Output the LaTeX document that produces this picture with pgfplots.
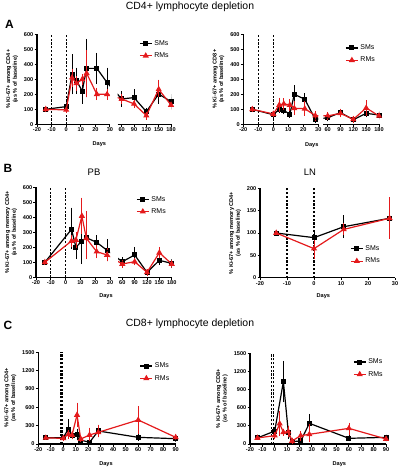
\documentclass[border=0pt]{standalone}
\usepackage{pgfplots}
\pgfplotsset{compat=1.18}
\usepackage{pgfplotstable}
\usepackage{fontspec}
\setmainfont{Liberation Sans}
\definecolor{myred}{RGB}{228,26,28}

% ---------- data: d = day, v = value, p/m = error up/down ----------
\pgfplotstableread{
d v p m
-14 100 0 0
0 118 10 10
4 333 118 118
7 291 71 71
11 222 62 70
14 373 180 177
21 373 87 89
28 278 84 85
60 169 35 35
90 178 40 38
120 84 10 10
150 202 49 49
180 151 33 31
}\ALsm
\pgfplotstableread{
d v p m
-14 100 0 0
0 96 5 5
4 311 45 45
7 273 34 37
11 300 18 22
14 340 138 144
21 200 29 22
28 200 22 20
60 169 20 20
90 136 10 10
120 58 10 10
150 233 49 37
180 129 15 15
}\ALrm
\pgfplotstableread{
d v p m
-14 100 0 0
0 64 5 5
4 100 10 10
7 93 10 10
11 67 8 8
14 200 44 35
21 167 24 23
28 33 18 10
60 44 8 8
90 78 10 10
120 31 5 5
150 73 10 10
180 62 10 10
}\ARsm
\pgfplotstableread{
d v p m
-14 100 0 0
0 69 5 5
4 129 33 33
7 136 22 23
11 129 22 22
14 107 33 29
21 104 36 31
28 58 15 18
60 56 8 8
90 73 10 10
120 33 5 5
150 109 35 36
180 56 8 8
}\ARrm
\pgfplotstableread{
d v p m
-14 100 0 0
4 320 129 116
7 200 64 62
11 242 140 138
14 264 129 126
21 233 31 33
28 180 58 58
60 104 15 15
90 149 38 36
120 33 5 5
150 113 15 15
180 93 15 15
}\BLsm
\pgfplotstableread{
d v p m
-14 100 0 0
4 242 22 26
7 249 38 38
11 409 107 105
14 260 167 122
21 171 29 29
28 149 33 27
60 89 10 10
90 104 8 8
120 33 5 5
150 164 23 22
180 89 10 10
}\BLrm
\pgfplotstableread{
d v p m
-14 100 0 0
0 89.6 10 12
11 114 20 20
28 133 22 21
}\LNsm
\pgfplotstableread{
d v p m
-14 100 0 0
0 65 13 18
11 108 8 7
28 133 42 41
}\LNrm
\pgfplotstableread{
d v p m
-14 100 0 0
0 105 10 10
4 245 120 100
7 136 20 20
11 158 55 55
14 65 10 10
21 27 10 10
28 213 65 65
60 109 15 15
90 87 10 10
}\CLsm
\pgfplotstableread{
d v p m
-14 100 0 0
0 93 10 10
4 158 30 30
7 147 20 20
11 475 163 164
14 82 10 10
21 147 82 60
28 191 76 44
60 393 191 191
90 109 10 10
}\CLrm
\pgfplotstableread{
d v p m
-14 100 0 0
0 215 20 20
7 1031 304 304
11 193 66 66
14 39 10 10
21 50 10 10
28 342 116 116
60 94 10 10
90 110 10 10
}\CRsm
\pgfplotstableread{
d v p m
-14 100 0 0
0 138 20 20
4 336 171 160
7 193 20 20
11 204 55 55
14 50 10 10
21 138 38 44
28 160 127 94
60 259 55 66
90 83 10 10
}\CRrm

\newcommand{\tf}{\bfseries\fontsize{5.6}{6.6}\selectfont}

\pgfplotsset{
  gp/.style={
    scale only axis, anchor=south west,
    axis x line=bottom, axis y line=left,
    axis line style={-, line width=1.1bp, black},
    tick align=outside,
    major tick length=2.5bp,
    every tick/.style={black, line width=1bp},
    ticklabel style={font=\tf, inner sep=1bp},
    /pgf/number format/assume math mode=true,
    /pgf/number format/1000 sep={},
    clip mode=individual,
    ylabel style={font=\tf, align=center},
    ylabel shift=1.5bp,
    legend style={draw=none, fill=none, font=\fontsize{7}{8}\selectfont,
      anchor=west, row sep=2bp, inner sep=0pt},
    legend cell align=left,
    legend image code/.code={\draw[mark repeat=2,mark phase=2,##1]
      plot coordinates {(0bp,0bp) (6bp,0bp) (12bp,0bp)};},
  },
  gp2/.style={gp, axis y line=none},
  sm/.style={black, line width=1.2bp, mark=square*, mark size=1.9bp,
    mark options={solid},
    error bars/y dir=both, error bars/y explicit,
    error bars/error bar style={line width=0.8bp},
    error bars/error mark options={line width=0.8bp, mark size=2.4bp}},
  rm/.style={myred, line width=1.2bp, mark=triangle*, mark size=2.4bp,
    mark options={solid},
    error bars/y dir=both, error bars/y explicit,
    error bars/error bar style={line width=0.8bp},
    error bars/error mark options={line width=0.8bp, mark size=2.4bp}},
  cnk/.style={black, line width=1.2bp, no marks, forget plot},
  cnr/.style={myred, line width=1.2bp, no marks, forget plot},
  dl/.style={black, line width=1.1bp, dash pattern=on 2.2bp off 1.6bp, no marks, forget plot},
}

\begin{document}
\begin{tikzpicture}
\path[use as bounding box] (0bp,0bp) rectangle (400bp,-471bp);

% ---------------- titles ----------------
\node[font=\fontsize{10.5}{12}\selectfont] at (190bp,-7bp) {CD4+ lymphocyte depletion};
\node[font=\bfseries\fontsize{12}{14}\selectfont] at (9.5bp,-24bp) {A};
\node[font=\bfseries\fontsize{12}{14}\selectfont] at (8bp,-168bp) {B};
\node[font=\fontsize{9.5}{11}\selectfont] at (94bp,-172bp) {PB};
\node[font=\fontsize{9.5}{11}\selectfont] at (310bp,-172bp) {LN};
\node[font=\bfseries\fontsize{12}{14}\selectfont] at (8bp,-325bp) {C};
\node[font=\fontsize{10.5}{12}\selectfont] at (190bp,-324bp) {CD8+ lymphocyte depletion};
\node[font=\tf] at (99.3bp,-144.5bp) {Days};
\node[font=\tf] at (311.7bp,-145bp) {Days};
\node[font=\tf] at (106bp,-295.7bp) {Days};
\node[font=\tf] at (323.3bp,-295.7bp) {Days};
\node[font=\tf] at (106bp,-464bp) {Days};
\node[font=\tf] at (339.3bp,-464bp) {Days};

% ================= A left =================
\begin{axis}[gp, at={(37bp,-124.3bp)}, width=73bp, height=90bp,
  xmin=-20, xmax=30, ymin=0, ymax=600,
  xtick={-20,-10,0,10,20,30}, ytick={0,100,...,600},
  ylabel={\% Ki-67+ among CD4+\\(as \% of baseline)}]
\addplot[dl] coordinates {(-10,0) (-10,600)};
\addplot[dl] coordinates {(0,0) (0,600)};
\addplot[sm, restrict x to domain=-20:30] table[x=d,y=v,y error plus=p,y error minus=m]{\ALsm};
\addplot[rm, restrict x to domain=-20:30] table[x=d,y=v,y error plus=p,y error minus=m]{\ALrm};
\addplot[cnk] coordinates {(28,278) (38.0,169)};
\addplot[cnr] coordinates {(28,200) (38.0,169)};
\end{axis}
\begin{axis}[gp2, at={(117.6bp,-124.3bp)}, width=53.4bp, height=90bp,
  xmin=50, xmax=180, ymin=0, ymax=600, xtick={60,90,120,150,180},
  legend style={at={(0.40,0.83)}}]
\addplot[sm, restrict x to domain=50:180] table[x=d,y=v,y error plus=p,y error minus=m]{\ALsm};
\addplot[rm, restrict x to domain=50:180] table[x=d,y=v,y error plus=p,y error minus=m]{\ALrm};
\addplot[cnk] coordinates {(24.4,278) (60,169)};
\addplot[cnr] coordinates {(24.4,200) (60,169)};
\legend{SMs,RMs}
\end{axis}

% ================= A right =================
\begin{axis}[gp, at={(243.3bp,-124.3bp)}, width=75bp, height=90bp,
  xmin=-20, xmax=30, ymin=0, ymax=600,
  xtick={-20,-10,0,10,20,30}, ytick={0,100,...,600},
  ylabel={\% Ki-67+ among CD8+\\(as \% of baseline)}]
\addplot[dl] coordinates {(-10,0) (-10,600)};
\addplot[dl] coordinates {(0,0) (0,600)};
\addplot[sm, restrict x to domain=-20:30] table[x=d,y=v,y error plus=p,y error minus=m]{\ARsm};
\addplot[rm, restrict x to domain=-20:30] table[x=d,y=v,y error plus=p,y error minus=m]{\ARrm};
\addplot[cnk] coordinates {(28,33) (36.3,44)};
\addplot[cnr] coordinates {(28,58) (36.3,56)};
\end{axis}
\begin{axis}[gp2, at={(323.4bp,-124.3bp)}, width=55.6bp, height=90bp,
  xmin=50, xmax=180, ymin=0, ymax=600, xtick={60,90,120,150,180},
  legend style={at={(0.39,0.78)}}]
\addplot[sm, restrict x to domain=50:180] table[x=d,y=v,y error plus=p,y error minus=m]{\ARsm};
\addplot[rm, restrict x to domain=50:180] table[x=d,y=v,y error plus=p,y error minus=m]{\ARrm};
\addplot[cnk] coordinates {(31.1,33) (60,44)};
\addplot[cnr] coordinates {(31.1,58) (60,56)};
\legend{SMs,RMs}
\end{axis}

% ================= B left (PB) =================
\begin{axis}[gp, at={(36bp,-277.3bp)}, width=74bp, height=90bp,
  xmin=-20, xmax=30, ymin=0, ymax=600,
  xtick={-20,-10,0,10,20,30}, ytick={0,100,...,600},
  ylabel={\% Ki-67+ among memory CD4+\\(as \% of baseline)}]
\addplot[dl] coordinates {(-10,0) (-10,600)};
\addplot[dl] coordinates {(0,0) (0,600)};
\addplot[sm, restrict x to domain=-20:30] table[x=d,y=v,y error plus=p,y error minus=m]{\BLsm};
\addplot[rm, restrict x to domain=-20:30] table[x=d,y=v,y error plus=p,y error minus=m]{\BLrm};
\addplot[cnk] coordinates {(28,180) (38.3,104)};
\addplot[cnr] coordinates {(28,149) (38.3,89)};
\end{axis}
\begin{axis}[gp2, at={(118.2bp,-277.3bp)}, width=53.5bp, height=90bp,
  xmin=50, xmax=180, ymin=0, ymax=600, xtick={60,90,120,150,180},
  legend style={at={(0.333,0.798)}}]
\addplot[sm, restrict x to domain=50:180] table[x=d,y=v,y error plus=p,y error minus=m]{\BLsm};
\addplot[rm, restrict x to domain=50:180] table[x=d,y=v,y error plus=p,y error minus=m]{\BLrm};
\addplot[cnk] coordinates {(22.8,180) (60,104)};
\addplot[cnr] coordinates {(22.8,149) (60,89)};
\legend{SMs,RMs}
\end{axis}

% ================= B right (LN) =================
\begin{axis}[gp, at={(260bp,-277.7bp)}, width=135bp, height=89.4bp,
  xmin=-20, xmax=30, ymin=0, ymax=200,
  xtick={-20,-10,0,10,20,30}, ytick={0,50,...,200},
  ylabel={\% Ki-67+ among memory CD4+\\(as \% of baseline)},
  legend style={at={(0.667,0.254)}}]
\addplot[dl] coordinates {(-10,0) (-10,200)};
\addplot[dl] coordinates {(0,0) (0,200)};
\addplot[sm] table[x=d,y=v,y error plus=p,y error minus=m]{\LNsm};
\addplot[rm] table[x=d,y=v,y error plus=p,y error minus=m]{\LNrm};
\legend{SMs,RMs}
\end{axis}

% ================= C left =================
\begin{axis}[gp, at={(38.3bp,-444bp)}, width=137.4bp, height=91.7bp,
  xmin=-20, xmax=90, ymin=0, ymax=1500,
  xtick={-20,-10,...,90}, ytick={0,300,...,1500},
  ylabel={\% Ki-67+ among CD4+\\(as \% of baseline)},
  legend style={at={(0.737,0.783)}}]
\addplot[dl] coordinates {(-2.5,0) (-2.5,1500)};
\addplot[dl] coordinates {(-1,0) (-1,1500)};
\addplot[sm] table[x=d,y=v,y error plus=p,y error minus=m]{\CLsm};
\addplot[rm] table[x=d,y=v,y error plus=p,y error minus=m]{\CLrm};
\legend{SMs,RMs}
\end{axis}

% ================= C right =================
\begin{axis}[gp, at={(250bp,-444bp)}, width=136bp, height=90.7bp,
  xmin=-20, xmax=90, ymin=0, ymax=1500,
  xtick={-20,-10,...,90}, ytick={0,300,...,1500},
  ylabel={\% Ki-67+ among CD8+\\(as \% of baseline)},
  legend style={at={(0.757,0.836)}}]
\addplot[dl] coordinates {(-2.5,0) (-2.5,1500)};
\addplot[dl] coordinates {(-1,0) (-1,1500)};
\addplot[sm] table[x=d,y=v,y error plus=p,y error minus=m]{\CRsm};
\addplot[rm] table[x=d,y=v,y error plus=p,y error minus=m]{\CRrm};
\legend{SMs,RMs}
\end{axis}
\end{tikzpicture}
\end{document}
